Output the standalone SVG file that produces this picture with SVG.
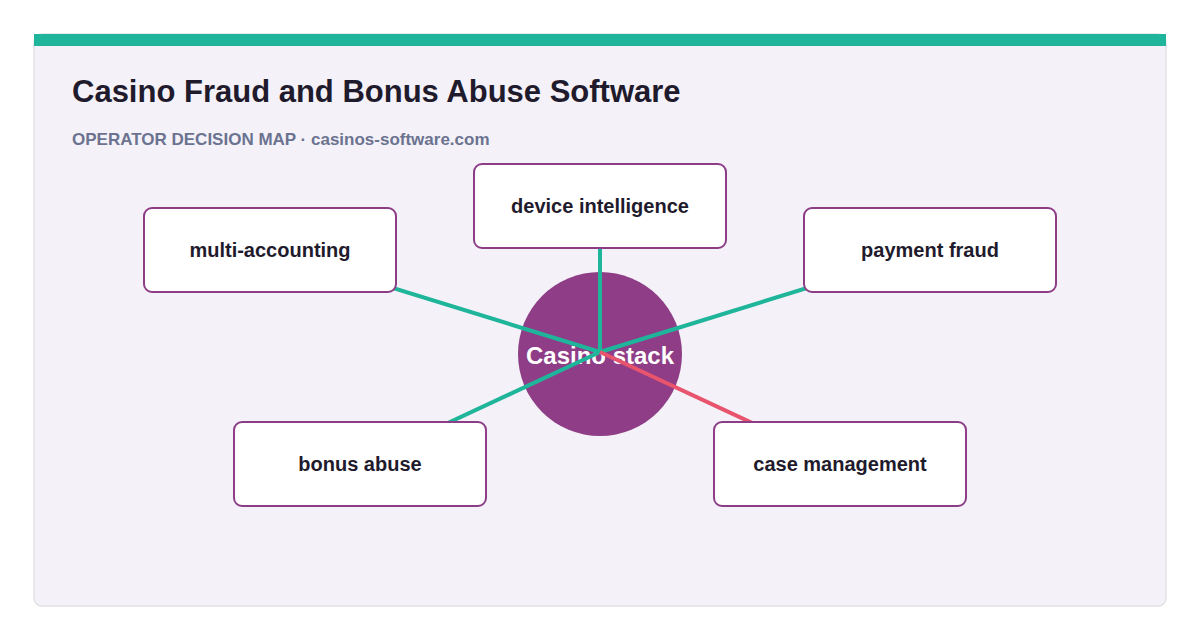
<svg xmlns="http://www.w3.org/2000/svg" width="1200" height="640" viewBox="0 0 1200 640">
<style>
.title{font-family:"Liberation Sans",Arial,sans-serif;font-weight:700;font-size:31px;fill:#1f1b2d}
.sub{font-family:"Liberation Sans",Arial,sans-serif;font-weight:700;font-size:17px;fill:#6b7390}
.box{fill:#ffffff;stroke:#8c3d86;stroke-width:2}
.lbl{font-family:"Liberation Sans",Arial,sans-serif;font-weight:700;font-size:20px;fill:#1f1b2d;text-anchor:middle}
.edge{stroke:#1fb59a;stroke-width:4;fill:none}
.edge.alert{stroke:#e8536e}
</style>
<rect x="0" y="0" width="1200" height="640" fill="#ffffff"/>
<rect x="34" y="34" width="1132" height="572" rx="8" fill="#f4f2f8" stroke="#e1e0e6" stroke-width="1.5"/>
<path d="M34 34 H1166 V46 H34 Z" fill="#1fb59a"/>
<text class="title" x="72" y="102">Casino Fraud and Bonus Abuse Software</text>
<text class="sub" x="72" y="145">OPERATOR DECISION MAP · casinos-software.com</text>
<g id="hub">
<circle cx="600" cy="354" r="82" fill="#8e3d86"/>
<text x="600" y="364" font-family="Liberation Sans, Arial, sans-serif" font-weight="700" font-size="24" fill="#ffffff" text-anchor="middle">Casino stack</text>
</g>
<g id="connectors">
<line class="edge" x1="600" y1="352" x2="270" y2="250"/>
<line class="edge" x1="600" y1="352" x2="600" y2="206"/>
<line class="edge" x1="600" y1="352" x2="930" y2="250"/>
<line class="edge" x1="600" y1="352" x2="360" y2="464"/>
<line class="edge alert" x1="600" y1="352" x2="840" y2="464"/>
</g>
<g id="node-multi-accounting">
<rect class="box" x="144" y="208" width="252" height="84" rx="8"/>
<text class="lbl" x="270" y="257">multi-accounting</text>
</g>
<g id="node-device-intelligence">
<rect class="box" x="474" y="164" width="252" height="84" rx="8"/>
<text class="lbl" x="600" y="213">device intelligence</text>
</g>
<g id="node-payment-fraud">
<rect class="box" x="804" y="208" width="252" height="84" rx="8"/>
<text class="lbl" x="930" y="257">payment fraud</text>
</g>
<g id="node-bonus-abuse">
<rect class="box" x="234" y="422" width="252" height="84" rx="8"/>
<text class="lbl" x="360" y="471">bonus abuse</text>
</g>
<g id="node-case-management">
<rect class="box" x="714" y="422" width="252" height="84" rx="8"/>
<text class="lbl" x="840" y="471">case management</text>
</g>
</svg>
